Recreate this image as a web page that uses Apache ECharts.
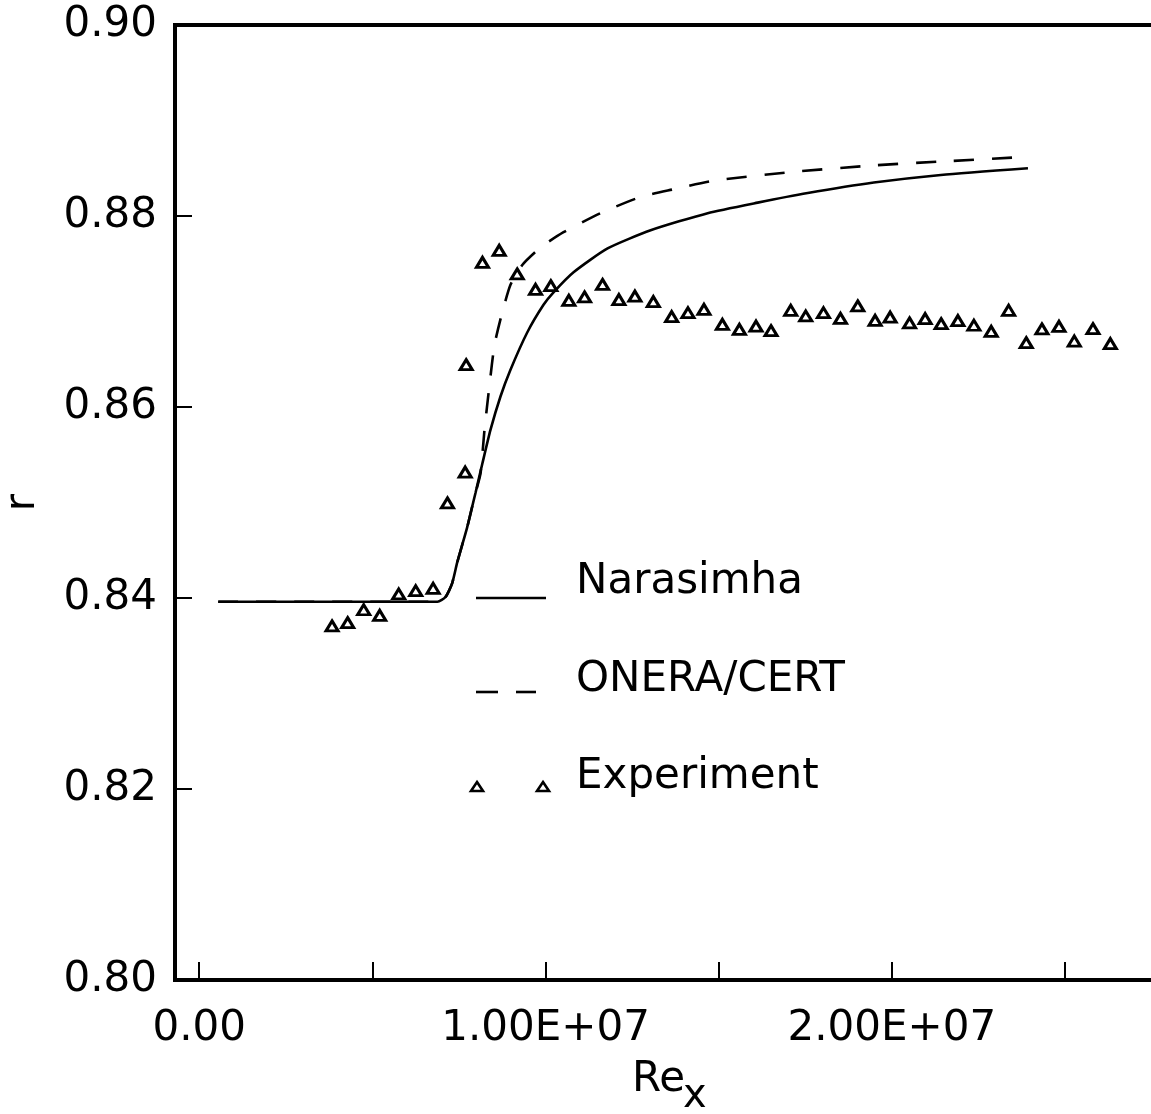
<!DOCTYPE html>
<html>
<head>
<meta charset="utf-8">
<script src="https://cdn.jsdelivr.net/npm/echarts@6/dist/echarts.min.js"></script>
<style>
  html, body { margin: 0; padding: 0; background: #fff; }
  #chart { width: 1151px; height: 1114px; }
</style>
</head>
<body>
<div id="chart"></div>
<script>
// Recovery factor r versus local Reynolds number Re_x (x values in millions)
const narasimhaRe = [0.549, 6.879, 7.110, 7.300, 7.448, 7.737, 7.977, 8.171, 8.410, 8.699, 8.988,
  9.471, 9.942, 10.231, 10.809, 11.792, 13.035, 14.682, 16.127, 17.572, 19.480, 21.416, 23.931];
const narasimhaR = [0.8396, 0.8396, 0.8401, 0.8415, 0.8437, 0.8474, 0.8510, 0.8540, 0.8576, 0.8611, 0.8639,
  0.8678, 0.8707, 0.8720, 0.8741, 0.8766, 0.8785, 0.8803, 0.8814, 0.8824, 0.8835, 0.8843, 0.8850];

const oneraRe = [0.549, 6.879, 7.110, 7.300, 7.448, 7.737, 7.977, 8.121, 8.237, 8.382, 8.526, 8.728,
  8.988, 9.335, 9.855, 10.520, 11.590, 12.746, 13.699, 14.855, 17.081, 19.480, 21.416, 23.931];
const oneraR = [0.8396, 0.8396, 0.8401, 0.8415, 0.8437, 0.8474, 0.8510, 0.8530, 0.8576, 0.8623, 0.8665, 0.8696,
  0.8728, 0.8749, 0.8767, 0.8783, 0.8803, 0.8820, 0.8828, 0.8837, 0.8846, 0.8853, 0.8857, 0.8862];

const experimentRe = [3.835, 4.286, 4.749, 5.211, 5.760, 6.251, 6.754, 7.168, 7.679, 7.708, 8.179, 8.662,
  9.182, 9.711, 10.153, 10.673, 11.127, 11.647, 12.118, 12.581, 13.113, 13.642, 14.113, 14.575,
  15.107, 15.598, 16.078, 16.512, 17.081, 17.514, 18.026, 18.517, 19.017, 19.517, 19.951, 20.512,
  20.962, 21.425, 21.908, 22.370, 22.870, 23.373, 23.882, 24.335, 24.827, 25.269, 25.809, 26.310];
const experimentR = [0.83707, 0.83741, 0.83877, 0.83819, 0.84042, 0.84076, 0.84102, 0.84995, 0.85319, 0.86443, 0.87515, 0.87641,
  0.87393, 0.87232, 0.87270, 0.87117, 0.87152, 0.87283, 0.87125, 0.87161, 0.87103, 0.86946, 0.86987, 0.87023,
  0.86866, 0.86814, 0.86848, 0.86799, 0.87013, 0.86953, 0.86987, 0.86929, 0.87058, 0.86908, 0.86942, 0.86880,
  0.86925, 0.86872, 0.86904, 0.86856, 0.86793, 0.87013, 0.86673, 0.86817, 0.86845, 0.86691, 0.86820, 0.86663];

const xTickValues = [0, 5e6, 10e6, 15e6, 20e6, 25e6];
const xLabelValues = [0, 10e6, 20e6];
const rTickLabels = ['0.80', '0.82', '0.84', '0.86', '0.88', '0.90'];

const FONT = 'DejaVu Sans';
const pairs = (xs, ys) => xs.map((x, i) => [x * 1e6, ys[i]]);

function sci(v) {
  if (v === 0) return '0.00';
  const e = Math.floor(Math.log10(Math.abs(v)) + 1e-9);
  const m = v / Math.pow(10, e);
  return m.toFixed(2) + 'E' + (e < 0 ? '-' : '+') + String(Math.abs(e)).padStart(2, '0');
}

const chart = echarts.init(document.getElementById('chart'), null, { renderer: 'canvas' });

chart.setOption({
  animation: false,
  backgroundColor: '#fff',
  grid: {
    left: 175, top: 25, right: -4, bottom: 134,
    show: true, borderColor: '#000', borderWidth: 4,
    containLabel: false, outerBoundsMode: 'none'
  },
  xAxis: {
    type: 'value',
    min: -0.7e6, max: 27.6e6,
    axisLine: { show: true, onZero: false, lineStyle: { color: '#000', width: 4 } },
    axisTick: { show: true, inside: true, length: 18, customValues: xTickValues,
      lineStyle: { color: '#000', width: 2 } },
    axisLabel: { customValues: xLabelValues, formatter: sci, color: '#000',
      fontFamily: FONT, fontSize: 42, margin: 28 },
    splitLine: { show: false }
  },
  yAxis: {
    type: 'value',
    min: 0.80, max: 0.90, interval: 0.02,
    axisLine: { show: true, onZero: false, lineStyle: { color: '#000', width: 4 } },
    axisTick: { show: true, inside: true, length: 17, lineStyle: { color: '#000', width: 2 } },
    axisLabel: {
      formatter: (v) => rTickLabels[Math.round((v - 0.80) / 0.02)],
      color: '#000', fontFamily: FONT, fontSize: 42, margin: 18
    },
    splitLine: { show: false },
    name: 'r',
    nameLocation: 'middle',
    nameRotate: 90,
    nameGap: 131,
    nameTextStyle: { color: '#000', fontFamily: FONT, fontSize: 42 }
  },
  series: [
    {
      name: 'Narasimha',
      type: 'line',
      data: pairs(narasimhaRe, narasimhaR),
      symbol: 'none',
      smooth: 0.2,
      lineStyle: { color: '#000', width: 2.6 },
      z: 3
    },
    {
      name: 'ONERA/CERT',
      type: 'line',
      data: pairs(oneraRe, oneraR),
      symbol: 'none',
      smooth: 0.2,
      lineStyle: { color: '#000', width: 2.6, type: [20, 18] },
      z: 3
    },
    {
      name: 'Experiment',
      type: 'scatter',
      data: pairs(experimentRe, experimentR),
      symbol: 'triangle',
      symbolSize: [12, 10],
      itemStyle: { color: '#fff', borderColor: '#000', borderWidth: 3, opacity: 1 },
      z: 4
    }
  ],
  graphic: [
    // axis title Re with subscript x
    { type: 'text', x: 632, y: 1080,
      style: { text: 'Re', fontFamily: FONT, fontSize: 42, fill: '#000', verticalAlign: 'middle' } },
    { type: 'text', x: 683, y: 1097,
      style: { text: 'x', fontFamily: FONT, fontSize: 40, fill: '#000', verticalAlign: 'middle' } },
    // legend: solid line sample
    { type: 'line', shape: { x1: 476, y1: 598, x2: 546, y2: 598 },
      style: { stroke: '#000', lineWidth: 2.6 } },
    { type: 'text', x: 576, y: 582,
      style: { text: 'Narasimha', fontFamily: FONT, fontSize: 42, fill: '#000', verticalAlign: 'middle' } },
    // legend: dashed line sample
    { type: 'line', shape: { x1: 476, y1: 692, x2: 498, y2: 692 },
      style: { stroke: '#000', lineWidth: 2.6 } },
    { type: 'line', shape: { x1: 516, y1: 692, x2: 536, y2: 692 },
      style: { stroke: '#000', lineWidth: 2.6 } },
    { type: 'text', x: 576, y: 680,
      style: { text: 'ONERA/CERT', fontFamily: FONT, fontSize: 42, fill: '#000', verticalAlign: 'middle' } },
    // legend: triangle marker sample
    { type: 'polygon', shape: { points: [[477, 782], [483, 791], [471, 791]] },
      style: { fill: '#fff', stroke: '#000', lineWidth: 2.6 } },
    { type: 'polygon', shape: { points: [[543, 782], [549, 791], [537, 791]] },
      style: { fill: '#fff', stroke: '#000', lineWidth: 2.6 } },
    { type: 'text', x: 576, y: 777,
      style: { text: 'Experiment', fontFamily: FONT, fontSize: 42, fill: '#000', verticalAlign: 'middle' } }
  ]
});
</script>
</body>
</html>
